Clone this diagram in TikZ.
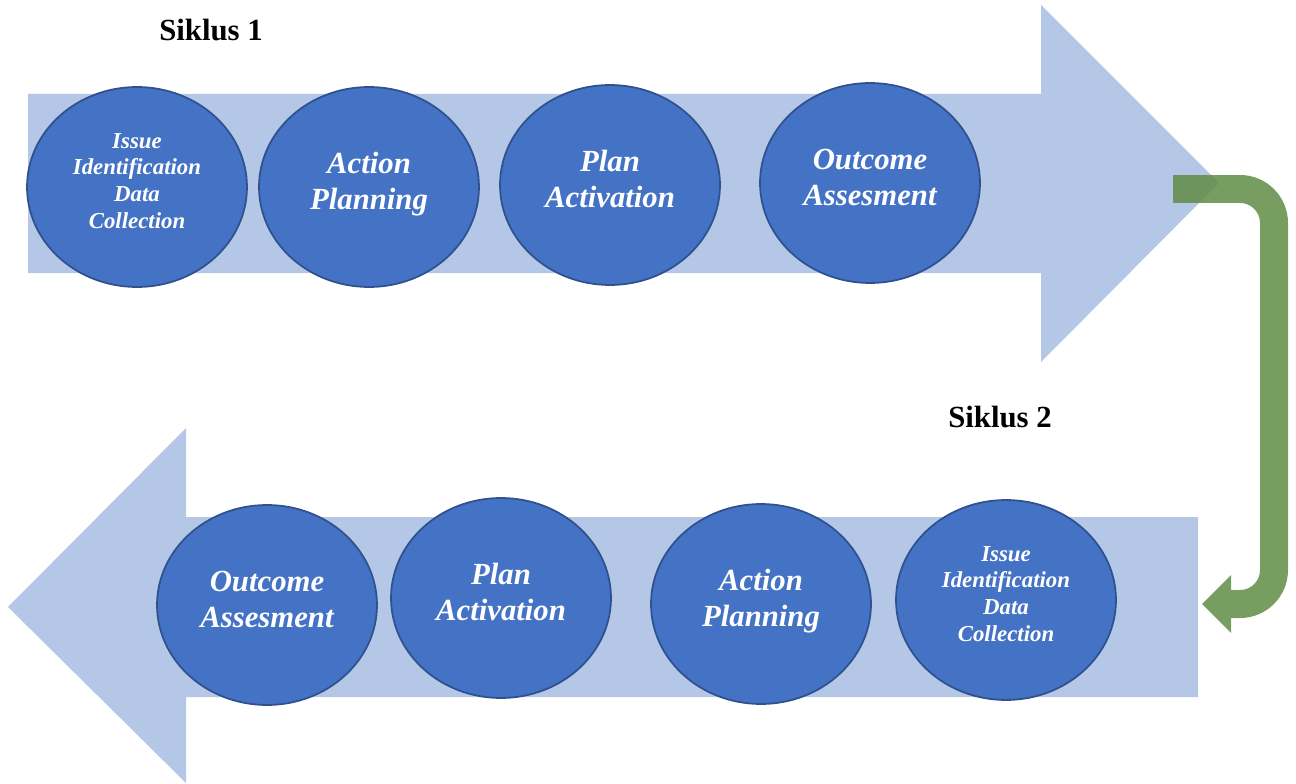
\documentclass[tikz,border=0pt]{standalone}
\usepackage{fontspec}
\setmainfont{Liberation Serif}
\usetikzlibrary{shapes.geometric,arrows.meta}

\definecolor{bandblue}{HTML}{B4C7E7}
\definecolor{stageblue}{HTML}{4472C4}
\definecolor{stageline}{HTML}{2F528F}
\definecolor{loopgreen}{RGB}{96,140,68}

\tikzset{
  stage/.style={ellipse, fill=stageblue, draw=stageline, line width=1pt,
    minimum width=4.4cm, minimum height=4cm, inner sep=0pt, align=center,
    text depth=7pt, text=white,
    font=\bfseries\itshape\fontsize{17.5}{20.5}\selectfont},
  stagesmall/.style={stage, font=\bfseries\itshape\fontsize{13}{15.3}\selectfont},
  cyclelabel/.style={font=\bfseries\fontsize{17.5}{21}\selectfont}
}

\begin{document}
\begin{tikzpicture}[x=0.02cm, y=-0.02cm]
		\useasboundingbox (0,0) rectangle (1296,784);
		
		% Band of cycle 1, pointing right
		\fill[bandblue] (28,94) -- (1041,94) -- (1041,5) -- (1219,183) -- (1041,362) -- (1041,273) -- (28,273) -- cycle;
		
		% Band of cycle 2, pointing left
		\fill[bandblue] (1198,517) -- (186,517) -- (186,428) -- (8,607) -- (186,783) -- (186,697) -- (1198,697) -- cycle;
		
		% Loop from cycle 1 into cycle 2
		\coordinate (c1out) at (1173,189);
		\coordinate (c2in) at (1202,604);
		\draw[loopgreen, opacity=0.85, line width=0.56cm, rounded corners=0.68cm,
		  -{Triangle[length=0.58cm, width=1.16cm, line width=0pt]}]
		  (c1out) -- (1274,189) -- (1274,604) -- (c2in);
		
		% Stages of cycle 1
		\node[stagesmall] (a1) at (137,187) {Issue\\Identification\\Data\\Collection};
		\node[stage] (a2) at (369,187) {Action\\Planning};
		\node[stage] (a3) at (610,185) {Plan\\Activation};
		\node[stage] (a4) at (870,183) {Outcome\\Assesment};
		
		% Stages of cycle 2
		\node[stagesmall] (b1) at (1006,600) {Issue\\Identification\\Data\\Collection};
		\node[stage] (b2) at (761,604) {Action\\Planning};
		\node[stage] (b3) at (501,598) {Plan\\Activation};
		\node[stage] (b4) at (267,605) {Outcome\\Assesment};
		
		% Titles
		\node[cyclelabel] (s1) at (211,30) {Siklus 1};
		\node[cyclelabel] (s2) at (1000,417) {Siklus 2};
		
	\end{tikzpicture}
\end{document}
